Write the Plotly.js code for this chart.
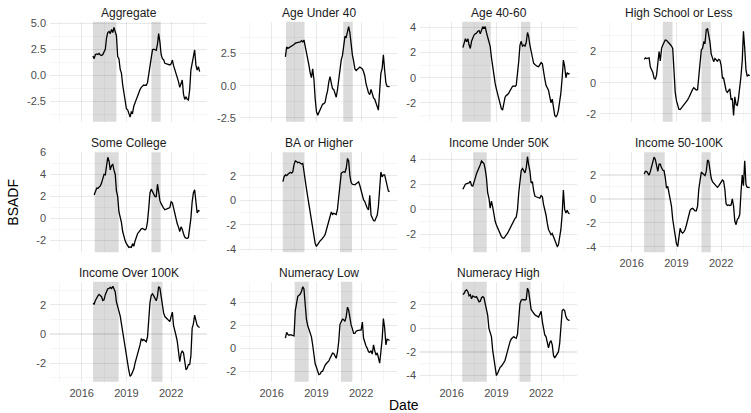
<!DOCTYPE html>
<html>
<head>
<meta charset="utf-8">
<script src="https://cdn.plot.ly/plotly-3.0.1.min.js"></script>
<style>html,body{margin:0;padding:0;background:#fff;}#chart{width:751px;height:413px;}</style>
</head>
<body>
<div id="chart"></div>
<script>
// ---------------- DATA ----------------
const panelNames = ['Aggregate','Age Under 40','Age 40-60','High School or Less',
  'Some College','BA or Higher','Income Under 50K','Income 50-100K',
  'Income Over 100K','Numeracy Low','Numeracy High'];

// monthly observations, first month Oct 2016, last month Dec 2023
const firstYear = 2016, firstMonth = 10, nMonths = 87;

const aggregate = [1.85,1.6,2.0,2.05,2.0,2.1,1.95,1.9,2.0,2.2, 2.5,3.6,4.1,4.2,4.0,4.4,4.1,4.6,4.1,3.8, 1.8,1.6,0.6,0.2,-0.9,-1.7,-2.2,-3.2,-3.3,-3.6, -4.0,-3.5,-3.6,-2.95,-2.7,-2.3,-2.0,-1.6,-1.35,-1.15, -1.0,-0.93,-0.95,-0.95,-0.7,0.2,0.9,2.0,2.45,2.5, 2.43,2.4,3.0,4.0,3.2,2.0,1.6,1.5,1.15,1.1, 1.05,1.0,1.0,1.1,1.47,0.95,0.6,0.3,-0.1,-0.6, -1.15,-0.8,-0.45,-1.8,-2.3,-2.05,-2.3,-2.36,-1.4,0.5, 1.15,1.8,2.43,1.0,0.5,0.83,0.35];
const ageUnder40 = [null,null,2.24,3.0,2.9,2.95,3.0,3.1,3.15,3.2, 3.3,3.33,3.35,3.4,3.4,3.5,3.4,3.55,3.1,2.6, 2.2,1.6,1.0,0.62,1.3,0.5,-1.0,-2.0,-2.3,-2.1, -1.9,-1.6,-1.45,-1.4,-1.3,-0.8,-0.4,0.3,0.7,0.2, -0.25,-0.3,-0.7,-0.9,-0.3,0.6,1.4,2.0,2.35,3.1, 3.83,3.75,4.3,4.58,4.1,3.0,2.4,1.9,1.3,1.18, 1.28,1.42,1.45,1.38,1.3,1.1,0.75,0.15,-0.3,-0.55, -0.7,-0.3,-0.6,-0.95,-1.05,-1.3,-1.6,-1.9,-0.4,0.96, 1.35,2.4,1.2,0.2,-0.05,-0.08,-0.08];
const age40to60 = [2.4,2.73,3.1,2.86,3.1,2.6,2.33,2.9,3.26,3.4, 3.5,3.55,3.7,3.75,3.5,3.8,4.06,3.95,4.06,3.6, 3.2,3.05,2.5,1.6,0.8,0.1,-0.45,-0.9,-1.3,-1.7, -2.2,-2.44,-2.57,-2.0,-1.55,-1.4,-1.35,-1.2,-1.0,-0.8, -0.68,-0.66,-0.7,-0.6,0.2,1.3,2.6,2.9,2.52,2.6, 2.52,2.8,3.6,3.3,2.6,2.1,1.4,1.15,1.05,0.95, 0.9,0.88,1.0,1.2,1.1,0.4,-0.1,-0.6,-0.85,-1.0, -1.5,-2.0,-1.7,-2.6,-3.0,-3.1,-2.95,-2.6,-2.0,-1.2, 0.0,1.4,0.9,0.0,0.4,0.3,0.35];
const highSchool = [null,1.5,1.6,1.55,1.6,1.6,1.0,0.85,0.65,0.3, 0.21,0.5,1.2,2.0,1.4,2.2,2.42,2.6,2.74,2.72, 2.65,2.55,2.45,2.35,2.2,0.8,-0.6,-1.15,-1.5,-1.7, -1.72,-1.62,-1.55,-1.45,-1.3,-1.2,-1.1,-0.95,-0.75,-0.6, -0.43,-0.32,-0.4,-0.47,-0.45,0.4,1.5,2.1,2.2,2.6, 2.55,3.4,3.45,3.1,2.6,1.85,1.6,1.35,1.55,1.45, 1.38,1.5,1.45,1.1,0.3,0.3,-0.1,-0.5,-0.62,-0.5, -0.4,-1.1,-1.0,-2.1,-0.9,-1.4,-1.45,-1.0,-0.4,0.4, 1.4,3.3,2.2,0.8,0.4,0.5,0.45];
const someCollege = [null,2.12,2.48,2.73,2.73,2.85,2.95,3.2,3.7,4.0, 3.95,5.0,5.55,5.2,4.4,4.8,4.9,4.4,4.0,2.5, 1.97,0.6,0.1,-0.4,-1.2,-1.8,-2.05,-2.3,-2.55,-2.65, -2.6,-2.65,-2.3,-2.55,-2.06,-1.7,-1.4,-1.25,-1.1,-0.95, -0.92,-1.0,-1.05,-0.95,-0.3,0.9,2.3,2.65,2.42,2.18, 1.97,1.97,3.1,2.42,1.6,1.33,1.06,0.92,0.78,0.85, 0.88,0.92,0.97,1.5,1.4,0.95,0.2,-0.2,-0.5,-0.8, -1.2,-0.78,-1.0,-1.4,-1.7,-1.8,-1.82,-1.75,-1.0,0.0, 1.5,2.3,2.6,1.1,0.5,0.7,0.65];
const baOrHigher = [1.52,1.92,2.06,2.0,2.11,2.2,2.28,2.2,2.3,2.9, 3.2,3.15,3.05,3.1,3.0,2.95,3.0,2.3,1.3,0.95, 0.3,-0.3,-1.0,-1.8,-2.5,-3.0,-3.5,-3.75,-3.6,-3.36, -3.3,-3.22,-3.12,-2.95,-2.8,-2.45,-1.9,-1.55,-1.25,-0.95, -1.15,-1.05,-1.1,-1.15,-0.7,0.3,1.75,2.2,2.28,2.33, 2.28,2.6,3.4,3.2,2.0,1.45,1.3,1.25,1.25,1.35, 1.45,1.5,1.2,0.8,0.3,0.05,-0.1,-0.45,-0.65,-0.79, 0.4,-1.2,-1.5,-1.65,-1.68,-1.5,-1.2,-0.5,0.6,2.3, 1.9,2.06,2.06,1.6,1.0,0.75,0.7];
const incomeUnder50K = [1.6,1.8,2.0,2.05,2.07,2.1,2.25,1.9,1.85,2.1, 2.5,2.85,3.05,3.3,3.55,3.85,3.7,3.65,3.2,2.5, 1.3,0.9,0.1,0.65,0.2,-0.5,-0.95,-1.25,-1.5,-1.7, -1.95,-2.15,-2.28,-2.3,-2.17,-2.07,-1.9,-1.7,-1.51,-1.2, -1.0,-0.83,-0.72,-0.62,0.0,1.3,2.5,3.1,3.25,3.1, 2.9,3.3,4.19,3.55,3.05,2.1,2.2,1.5,1.05,1.0, 0.97,0.93,0.88,1.1,1.0,0.4,0.0,-0.45,-1.1,-1.6, -1.8,-2.02,-1.92,-2.2,-2.44,-2.7,-2.95,-2.84,-2.2,-1.6, -0.4,1.54,0.0,-0.3,-0.08,-0.3,-0.35];
const income50to100K = [null,2.09,2.3,2.3,2.15,2.0,2.3,2.7,3.1,3.5, 3.3,2.8,2.3,2.9,2.9,2.6,2.4,2.37,1.8,0.9, 1.05,0.5,0.0,-0.6,-1.7,-2.5,-3.2,-3.75,-3.98,-3.3, -2.45,-2.75,-2.85,-2.75,-2.55,-2.2,-1.72,-1.3,-0.95,-0.83, -0.78,-0.88,-1.0,-1.0,-0.6,0.8,1.8,2.25,2.14,2.05, 1.95,2.3,3.26,3.15,2.2,1.75,1.45,1.35,1.22,1.12, 0.97,1.1,1.3,1.5,1.58,1.5,0.8,-0.4,-0.55,-0.5, -0.55,-0.5,0.0,-0.6,-1.85,-2.15,-1.7,-1.6,-1.3,0.5, 2.0,1.1,3.2,1.2,0.97,0.97,0.95];
const incomeOver100K = [2.1,2.06,2.3,2.5,2.62,2.72,2.6,2.56,2.3,2.35, 2.7,2.97,3.1,3.13,3.2,3.13,3.27,3.1,2.9,2.2, 1.87,1.7,1.25,0.7,0.15,-0.35,-1.1,-1.55,-1.9,-2.5, -2.9,-2.8,-2.6,-2.4,-2.0,-1.7,-1.35,-1.05,-0.75,-0.32, -0.45,-0.38,-0.46,-0.53,-0.2,1.2,2.15,2.65,2.75,2.62, 2.45,2.28,2.6,3.25,3.15,2.56,1.9,1.45,1.2,1.1, 1.0,0.93,0.85,1.2,1.5,0.6,0.3,-0.1,-0.5,-1.4, -1.9,-1.35,-1.15,-1.3,-2.1,-2.45,-2.35,-2.1,-2.1,-1.5, 0.4,0.7,1.3,1.0,0.6,0.5,0.45];
const numeracyLow = [null,null,0.9,1.4,1.2,1.15,1.2,1.17,1.17,1.1, 3.3,4.2,4.55,4.65,4.75,5.0,5.39,5.2,3.6,2.55, 2.0,1.72,1.45,1.0,0.29,-0.6,-1.35,-1.65,-1.95,-2.3, -2.25,-2.05,-2.0,-1.65,-1.48,-1.33,-1.25,-1.1,-0.87,-0.6, -0.42,-0.45,-0.73,-0.87,-0.3,0.6,2.1,2.4,2.55,2.5, 2.35,2.8,3.6,3.35,2.5,2.05,1.7,1.3,1.3,1.5, 1.55,1.6,1.6,1.6,2.3,0.9,0.4,0.2,0.0,-0.3, -0.35,-0.2,-0.5,0.3,-0.2,-0.6,-0.4,-0.8,-1.3,-0.3, 0.8,2.6,1.8,0.3,0.8,0.75,0.7];
const numeracyHigh = [2.85,2.97,3.19,3.25,3.1,2.75,2.85,2.5,2.74,2.68, 2.63,2.68,2.45,2.25,2.3,2.6,2.68,2.6,2.1,1.5, 1.1,0.0,-0.3,-0.7,-1.84,-2.6,-3.4,-4.0,-3.8,-3.45, -3.3,-3.22,-3.1,-2.9,-2.7,-2.3,-1.8,-1.4,-1.13,-0.9, -0.78,-0.7,-0.8,-0.85,-0.5,1.2,2.1,2.38,2.45,2.42, 2.4,2.45,3.4,3.15,2.45,1.6,1.43,1.25,1.15,1.08, 1.03,0.95,1.2,1.45,0.55,0.1,-0.56,-0.7,-1.3,-1.65, -1.2,-1.05,-1.4,-2.3,-2.5,-2.35,-2.2,-2.0,-1.3,-0.1, 1.5,1.61,1.5,1.0,0.78,0.7,0.68];

const seriesList = [aggregate, ageUnder40, age40to60, highSchool, someCollege, baOrHigher,
  incomeUnder50K, income50to100K, incomeOver100K, numeracyLow, numeracyHigh];

// shaded bubble periods (two per panel)
const bubble1Start = ['2016-10-01','2016-12-15','2016-09-15','2018-01-30','2016-11-15','2016-09-28','2017-06-12','2016-10-30','2016-10-05','2017-07-22','2016-09-15'];
const bubble1End   = ['2018-05-01','2018-03-15','2018-08-15','2018-09-25','2018-06-25','2018-03-15','2018-05-08','2018-03-20','2018-06-25','2018-06-25','2018-05-08'];
const bubble2Start = ['2020-09-05','2020-10-20','2020-08-25','2020-09-05','2020-09-05','2020-08-01','2020-08-25','2020-09-05','2020-09-05','2020-08-25','2020-07-22'];
const bubble2End   = ['2021-04-20','2021-06-10','2021-04-10','2021-04-20','2021-04-20','2021-05-22','2021-04-10','2021-04-20','2021-06-03','2021-05-30','2021-04-20'];

// y tick values / labels per panel
const yTickVals = [[-2.5,0,2.5,5],[-2.5,0,2.5],[-2,0,2,4],[-2,0,2],[-2,0,2,4,6],[-4,-2,0,2],
  [-2,0,2,4],[-4,-2,0,2],[-2,0,2],[-2,0,2,4],[-4,-2,0,2]];
const yTickText = [['-2.5','0.0','2.5','5.0'],['-2.5','0.0','2.5'],['-2','0','2','4'],['-2','0','2'],
  ['-2','0','2','4','6'],['-4','-2','0','2'],['-2','0','2','4'],['-4','-2','0','2'],['-2','0','2'],
  ['-2','0','2','4'],['-4','-2','0','2']];
const yRanges = [[-4.44,5.14],[-2.8,4.97],[-3.5,4.46],[-2.5,3.91],[-3.09,6.0],[-4.23,3.9],
  [-3.42,4.54],[-4.46,3.9],[-3.27,3.59],[-2.92,5.83],[-4.52,3.95]];

const xTickVals = ['2016-01-01','2019-01-01','2022-01-01'];
const xTickText = ['2016','2019','2022'];
const xMinorVals = ['2014-07-02','2017-07-02','2020-07-02','2023-07-02'];

// ---------------- BUILD ----------------
const months = [];
for (let k = 0; k < nMonths; k++) {
  const t = (firstMonth - 1) + k;
  const y = firstYear + Math.floor(t / 12), mo = (t % 12) + 1;
  months.push(y + '-' + String(mo).padStart(2, '0') + '-01');
}

const W = 751, H = 413;
const colLeft = [50, 240, 420, 600], panelW = 157;
const rowTop = [21.7, 152.3, 281.7], panelH = 100;
const xRangeStart = '2013-11-14', xRangeEndFull = '2024-05-30', xRangeEndClip = '2024-01-02';
const FONT = 'Liberation Sans, Arial, Helvetica, sans-serif';
const GRID_MAJOR = 'rgba(0,0,0,0.085)', GRID_MINOR = 'rgba(0,0,0,0.045)';

const data = [], shapes = [], annotations = [];
const layout = {
  width: W, height: H, margin: {l:0, r:0, t:0, b:0},
  paper_bgcolor: '#ffffff', plot_bgcolor: 'rgba(0,0,0,0)',
  showlegend: false, font: {family: FONT}, hovermode: false
};

panelNames.forEach((name, i) => {
  const col = i % 4, row = Math.floor(i / 4);
  const n = i === 0 ? '' : String(i + 1);
  const left = colLeft[col], right = Math.min(left + panelW, W);
  const top = rowTop[row], bottom = top + panelH;
  const showX = row === 2 || (row === 1 && col === 3);

  data.push({
    type: 'scatter', mode: 'lines', x: months, y: seriesList[i],
    xaxis: 'x' + n, yaxis: 'y' + n,
    line: {color: '#000000', width: 1.3}, connectgaps: false
  });

  const step = yTickVals[i][1] - yTickVals[i][0];
  const yr = yRanges[i];
  const minorY = [];
  yTickVals[i].forEach(v => minorY.push(v - step / 2));
  minorY.push(yTickVals[i][yTickVals[i].length - 1] + step / 2);

  layout['xaxis' + n] = {
    domain: [left / W, right / W], anchor: 'y' + n, type: 'date',
    range: [xRangeStart, col === 3 ? xRangeEndClip : xRangeEndFull],
    tickmode: 'array', tickvals: xTickVals, ticktext: xTickText,
    showticklabels: showX, ticks: '', showline: false, zeroline: false,
    showgrid: true, gridcolor: GRID_MAJOR, gridwidth: 1.1,
    minor: {tickmode: 'array', tickvals: xMinorVals, showgrid: true, gridcolor: GRID_MINOR, gridwidth: 0.8, ticks: ''},
    tickfont: {family: FONT, size: 11, color: '#4D4D4D'}, ticklabelstandoff: 3
  };
  layout['yaxis' + n] = {
    domain: [1 - bottom / H, 1 - top / H], anchor: 'x' + n,
    range: yr, tickmode: 'array', tickvals: yTickVals[i], ticktext: yTickText[i],
    ticks: '', showline: false, zeroline: false,
    showgrid: true, gridcolor: GRID_MAJOR, gridwidth: 1.1,
    minor: {tickmode: 'array', tickvals: minorY.filter(v => v > yr[0] && v < yr[1]), showgrid: true, gridcolor: GRID_MINOR, gridwidth: 0.8, ticks: ''},
    tickfont: {family: FONT, size: 11, color: '#4D4D4D'}, ticklabelstandoff: 3
  };

  [[bubble1Start[i], bubble1End[i]], [bubble2Start[i], bubble2End[i]]].forEach(p => {
    shapes.push({type: 'rect', xref: 'x' + n, yref: 'y' + n + ' domain',
      x0: p[0], x1: p[1], y0: 0, y1: 1,
      fillcolor: '#DBDBDB', line: {width: 0}, layer: 'below'});
  });

  annotations.push({xref: 'paper', yref: 'paper', x: (left + panelW / 2) / W, y: 1 - (top - 9) / H,
    text: name, showarrow: false, xanchor: 'center', yanchor: 'middle',
    font: {family: FONT, size: 12, color: '#1A1A1A'}});
});

annotations.push({xref: 'paper', yref: 'paper', x: 403.5 / W, y: 0, yshift: -1, text: 'Date',
  showarrow: false, xanchor: 'center', yanchor: 'bottom', borderpad: 0, font: {family: FONT, size: 14, color: '#000000'}});
annotations.push({xref: 'paper', yref: 'paper', x: 13 / W, y: 1 - 201.7 / H, text: 'BSADF', textangle: -90,
  showarrow: false, xanchor: 'center', yanchor: 'middle', font: {family: FONT, size: 14, color: '#000000'}});

layout.shapes = shapes;
layout.annotations = annotations;

Plotly.newPlot('chart', data, layout, {staticPlot: true, displayModeBar: false});
</script>
</body>
</html>
